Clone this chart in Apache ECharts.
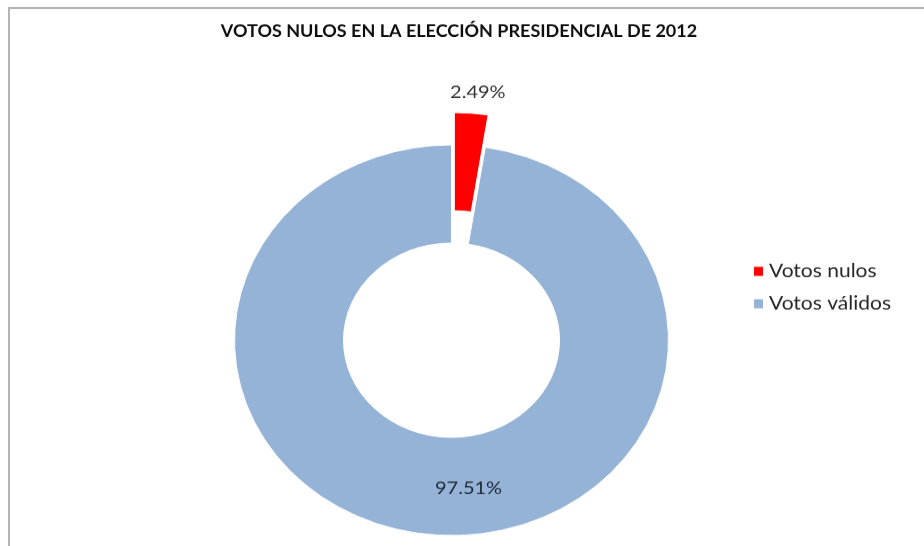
<!DOCTYPE html>
<html>
<head>
<meta charset="utf-8">
<script src="https://cdn.jsdelivr.net/npm/echarts@6/dist/echarts.min.js"></script>
<style>
    html, body { margin: 0; padding: 0; background: #fff; overflow: hidden; }
    #wrap { position: relative; width: 924px; height: 546px; overflow: hidden; }
    /* the original picture is squashed vertically, so the pie is an ellipse */
    #chart { position: absolute; left: 0; top: 0; width: 924px; height: 607px; transform: scaleY(0.9); transform-origin: 0 0; }
    #frame { position: absolute; left: 8px; top: 7px; right: -10px; bottom: -10px; border-top: 2px solid #b5b5b5; border-left: 2px solid #b5b5b5; pointer-events: none; }
</style>
</head>
<body>
<div id="wrap">
    <div id="chart"></div>
    <div id="frame"></div>
</div>
<script>
const titleText = 'VOTOS NULOS EN LA ELECCIÓN PRESIDENCIAL DE 2012'
const categories = ['Votos nulos', 'Votos válidos']
const shares = [2.49, 97.51]
const colors = ['#ff0000', '#95b3d7']

const chart = echarts.init(document.getElementById('chart'))

const option = {
    backgroundColor: '#fff',
    animation: false,
    title: {
        text: titleText,
        left: 454,
        textAlign: 'center',
        top: 21,
        textStyle: {
            fontFamily: 'Lato',
            fontWeight: 'bold',
            fontSize: 18,
            color: '#0d0d0d'
        }
    },
    legend: {
        orient: 'vertical',
        left: 747,
        top: 286,
        itemWidth: 11,
        itemHeight: 12,
        itemGap: 15,
        icon: 'rect',
        data: categories,
        textStyle: {
            fontFamily: 'Lato',
            fontSize: 21,
            color: '#262626'
        }
    },
    series: [
        {
            type: 'pie',
            center: [451.5, 378],
            radius: [108, 217],
            startAngle: 90,
            clockwise: true,
            selectedMode: 'single',
            selectedOffset: 36,
            avoidLabelOverlap: false,
            emphasis: { disabled: true },
            itemStyle: {
                borderColor: '#fff',
                borderWidth: 1
            },
            data: categories.map((name, i) => ({
                name: name,
                value: shares[i],
                selected: i === 0,
                itemStyle: { color: colors[i] },
                label: i === 0
                    ? { position: 'outside', color: '#333' }
                    : { position: 'inside', color: '#1f2937', padding: [0, 0, 0, 60] },
                labelLine: i === 0
                    ? { show: false, length: 23, length2: -28 }
                    : { show: false }
            })),
            label: {
                formatter: p => p.value.toFixed(2) + '%',
                fontFamily: 'Lato',
                fontSize: 20
            }
        }
    ]
}

chart.setOption(option)
</script>
</body>
</html>
